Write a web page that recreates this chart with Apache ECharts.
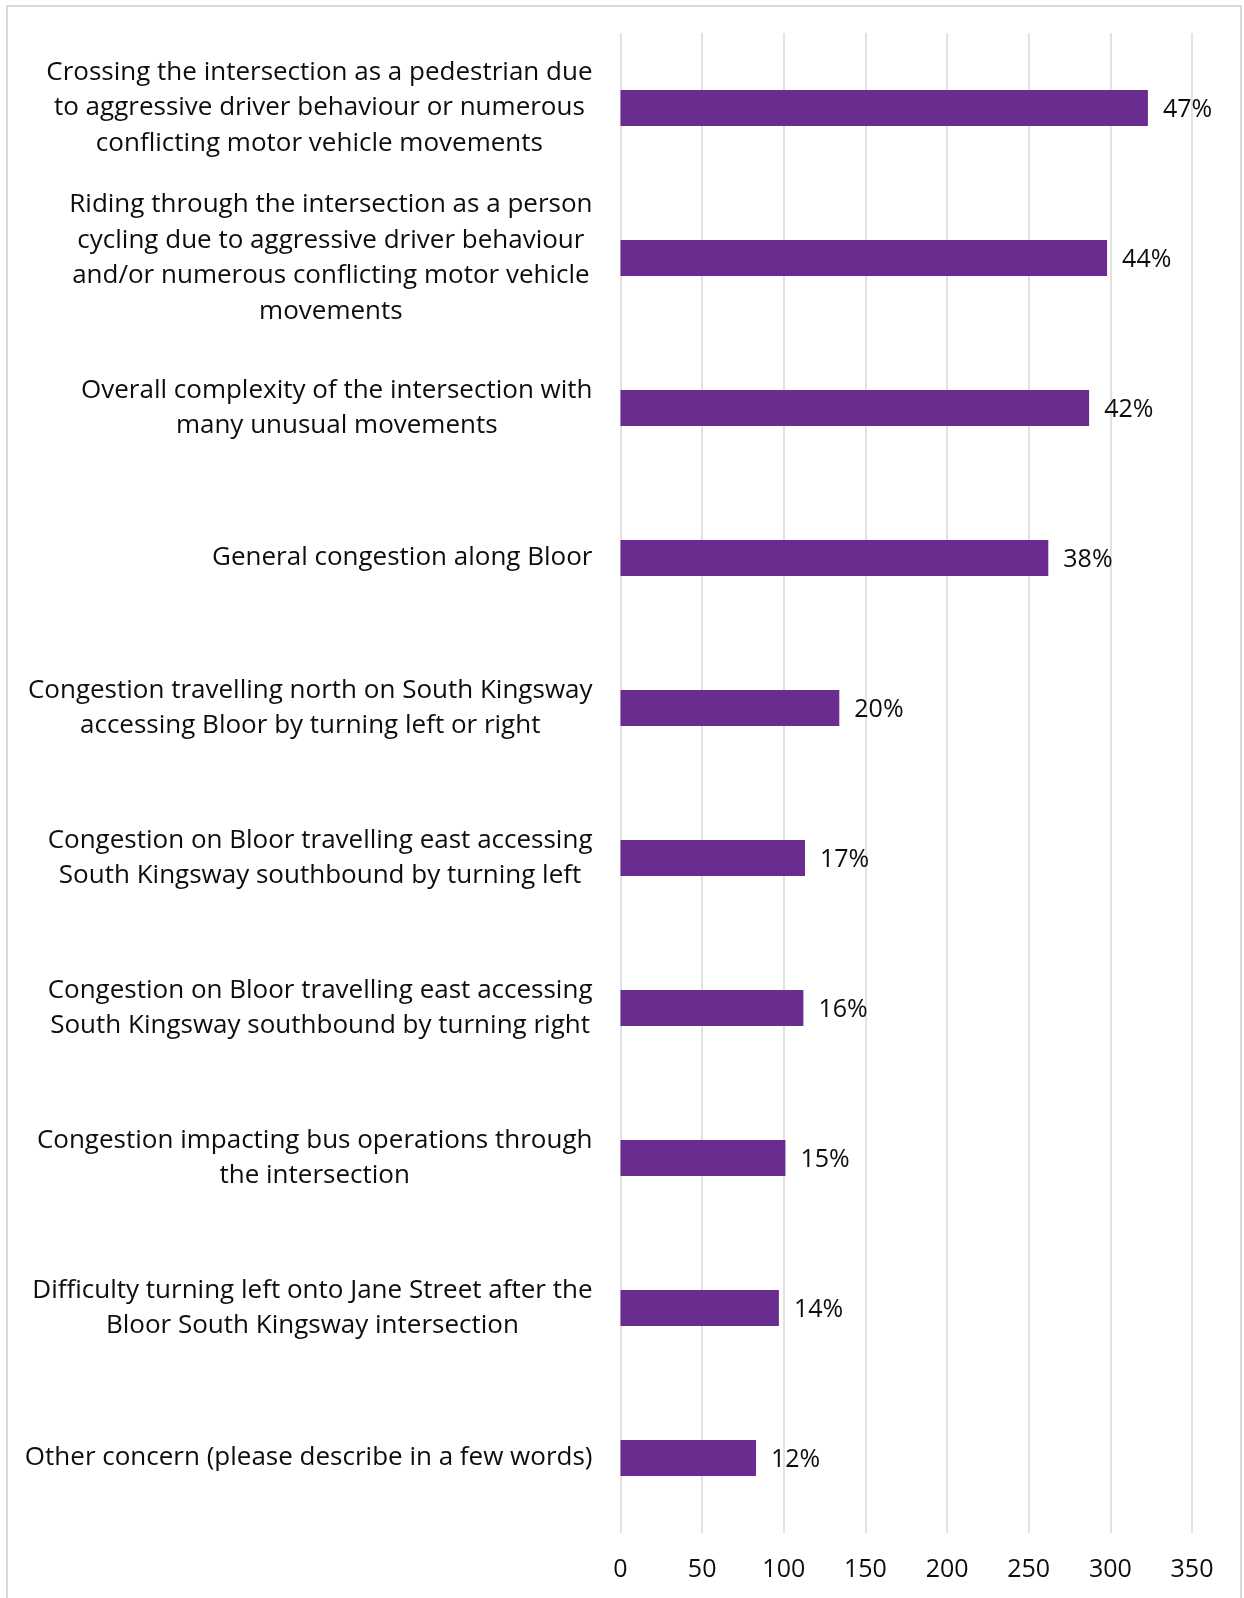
<!DOCTYPE html>
<html>
<head>
<meta charset="utf-8">
<title>Intersection concerns</title>
<script src="https://cdn.jsdelivr.net/npm/echarts@6/dist/echarts.min.js"></script>
<style>
  html, body { margin: 0; padding: 0; background: #ffffff; }
  #chart { width: 1244px; height: 1598px; }
</style>
</head>
<body>
<div id="chart"></div>
<script>
// Concerns, top to bottom
const categories = [
  'Crossing the intersection as a pedestrian due\nto aggressive driver behaviour or numerous\nconflicting motor vehicle movements',
  'Riding through the intersection as a person\ncycling due to aggressive driver behaviour\nand/or numerous conflicting motor vehicle\nmovements',
  'Overall complexity of the intersection with\nmany unusual movements',
  'General congestion along Bloor',
  'Congestion travelling north on South Kingsway\naccessing Bloor by turning left or right',
  'Congestion on Bloor travelling east accessing\nSouth Kingsway southbound by turning left',
  'Congestion on Bloor travelling east accessing\nSouth Kingsway southbound by turning right',
  'Congestion impacting bus operations through\nthe intersection',
  'Difficulty turning left onto Jane Street after the\nBloor South Kingsway intersection',
  'Other concern (please describe in a few words)'
];

// Number of responses per concern
const responses = [323, 298, 287, 262, 134, 113, 112, 101, 97, 83];

// Share of respondents, shown at the end of each bar
const shares = ['47%', '44%', '42%', '38%', '20%', '17%', '16%', '15%', '14%', '12%'];

// Value axis ticks
const axisMin = 0;
const axisMax = 350;
const axisStep = 50;

const FONT = '"Open Sans", Lato, sans-serif';

const chart = echarts.init(document.getElementById('chart'), null, { renderer: 'canvas' });

chart.setOption({
  backgroundColor: '#ffffff',
  animation: false,
  graphic: [{
    type: 'rect',
    silent: true,
    shape: { x: 7, y: 6, width: 1234, height: 1620 },
    style: { fill: 'none', stroke: '#d9d9d9', lineWidth: 2 }
  }],
  grid: {
    left: 620.5,
    right: 52,
    top: 33,
    bottom: 65,
    containLabel: false
  },
  xAxis: {
    type: 'value',
    min: axisMin,
    max: axisMax,
    interval: axisStep,
    axisLine: { show: false },
    axisTick: { show: false },
    splitLine: { show: true, lineStyle: { color: '#d9d9d9', width: 1.5 } },
    axisLabel: {
      color: '#0d0d0d',
      fontFamily: FONT,
      fontSize: 25,
      margin: 24
    }
  },
  yAxis: {
    type: 'category',
    data: categories,
    inverse: true,
    axisLine: { show: false },
    axisTick: { show: false },
    splitLine: { show: false },
    axisLabel: {
      interval: 0,
      margin: 28,
      align: 'right',
      formatter: function (value) {
        return value.split('\n').map(function (line) { return '{c|' + line + '}'; }).join('\n');
      },
      rich: {
        c: {
          align: 'center',
          color: '#0d0d0d',
          fontFamily: FONT,
          fontSize: 26,
          lineHeight: 35.5
        }
      }
    }
  },
  series: [{
    type: 'bar',
    data: responses,
    barWidth: 36,
    itemStyle: { color: '#6a2c8f' },
    label: {
      show: true,
      position: 'right',
      distance: 15,
      color: '#0d0d0d',
      fontFamily: FONT,
      fontSize: 25,
      offset: [0, 2],
      formatter: function (p) { return shares[p.dataIndex]; }
    }
  }]
});
</script>
</body>
</html>
